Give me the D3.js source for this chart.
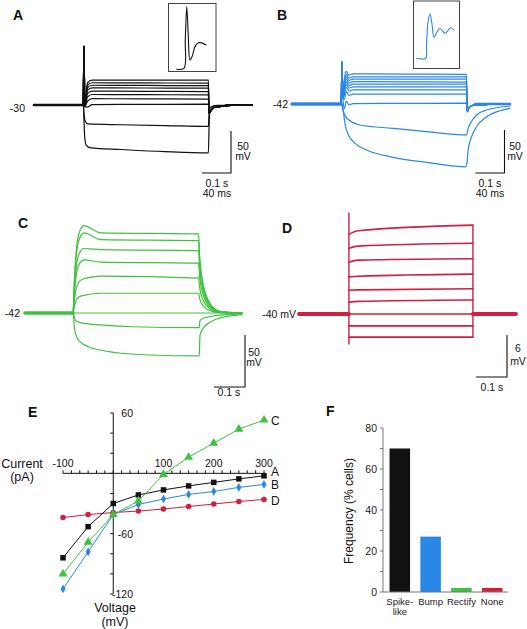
<!DOCTYPE html>
<html><head><meta charset="utf-8">
<script src="https://cdn.jsdelivr.net/npm/d3@7"></script>
<style>
html,body{margin:0;padding:0;background:#fff;}
svg{display:block;font-family:"Liberation Sans",Arial,Helvetica,sans-serif;}
</style></head><body>
<svg id="fig" width="527" height="629"></svg>
<script>
// ================= DATA =================
const colA = "#111111", colB = "#2a87e6", colC = "#3ec23e", colD = "#d11f40";

// ---- Panel A (time in ms, potential in mV) ----
const aBase = -30, aOn = 170, aOff = 600, aEnd = 750, aSpike = 40;
const aUpperStart = [-0.5, -3.5, -6.5, -9.5, -13.5, -17.5, -22.5, -29.5];
const aUpperEnd   = [-0.5, -4, -7, -10, -14, -18, -23, -29];
const aLow1 = [[0,-30],[170,-30],[172,-40],[176,-49],[185,-52.5],[300,-53.5],[450,-54.5],[600,-55.5],[602,-42],[606,-33],[630,-30.5],[750,-30]];
const aLow2 = [[0,-30],[170,-30],[172,-50],[175,-70],[180,-78],[195,-81],[300,-83],[450,-85.5],[600,-87],[602,-60],[605,-38],[620,-31],[750,-30]];
const aInsetT = [1, 11, 12.8, 14.8, 16.9, 19.3, 22.5, 26.2, 30.8, 35.4, 41.4];
const aInsetV = [-60, -58.8, -25, 14.5, -19, -49, -44, -33, -28.5, -28.5, -31];

// ---- Panel B ----
const bBase = -42, bOn = 170, bOff = 600, bEnd = 750, bSpike = 7;
const bUpperStart = [-7, -10.5, -13, -16, -19, -22, -25.5, -30.5, -41.5];
const bUpperEnd   = [-7.5, -10.5, -13, -16.5, -19, -22, -25.5, -30.5, -41];
const bLow1 = [[0,-42],[170,-42],[175,-49],[188,-58.3],[234,-66.4],[348,-70.3],[463,-74.2],[600,-78],[606,-70.3],[617,-62.6],[635,-54.8],[670,-49],[750,-44.3]];
const bLow2 = [[0,-42],[170,-42],[174,-45],[182,-64.4],[194,-78],[217,-87.7],[257,-95.5],[348,-104],[463,-109.8],[598,-115],[602,-110],[606,-95.5],[618,-80],[635,-68.4],[670,-56.8],[715,-49.8],[750,-47]];
const bInsetT = [0.9, 12.9, 14, 16, 18.7, 21.3, 24, 28, 32, 38.7, 46.3, 50.7];
const bInsetV = [-60, -60, -44.5, -17.8, -8.5, -20.1, -35.6, -29.4, -25.1, -30.9, -24.4, -27.1];

// ---- Panel C ----
const cBase = -42, cOn = 155, cOff = 560, cEnd = 700;
const cPeak    = [42, 35, 20, 9, -9, -25, -42];
const cPlateau = [35, 28.5, 19, 7, -6.5, -23, -42];
const cFinal   = [34, 27.5, 18, 6, -8.5, -23, -42];
const cLow1 = [[0,-42],[155.8,-42],[161.3,-48.7],[177.4,-51.3],[241.9,-53.5],[349.4,-55.2],[562,-56.1],[564.5,-49.4],[575.2,-47.1],[607.4,-44.9],[672,-43.3],[700,-42.7]];
const cLow2 = [[0,-42],[155.8,-42],[159,-55.2],[164.5,-63.2],[177.4,-69.6],[204.2,-74.4],[241.9,-77.6],[295.8,-80.2],[403.2,-82.4],[562.3,-83.3],[564.5,-63.2],[575.2,-56.7],[591.3,-51.9],[618.4,-47.8],[661.3,-44.9],[700,-43.6]];

// ---- Panel D ----
const dBase = -40, dOn = 161, dOff = 561, dEnd = 700;
const dStart = [-28.6, -30.6, -32.6, -34.7, -36.6, -38.3, -40, -41.7, -43.3];
const dEarly = [-28.1, -30.3, -32.3, -34.6, -36.55, -38.2, -40, -41.7, -43.3];
const dFinal = [-27.3, -29.9, -32.1, -34.3, -36.4, -38, -40, -41.7, -43.3];
const dTransient = [-25.6, -44.3];

// ---- Panel E (I-V) ----
const ivVoltage = [-100, -50, 0, 50, 100, 150, 200, 250, 300];
const ivA = [-84, -53, -30, -21.5, -16.5, -12.5, -9, -5.5, -2.5];
const ivB = [-115, -78, -41, -31, -25.5, -21, -18, -14, -11];
const ivC = [-100, -68.5, -41, -27.5, -1, 16, 30, 44, 53];
const ivD = [-44, -41, -39, -37.5, -35.5, -33, -30.5, -28, -26];
const ivXTickLabels = [-100, 100, 200, 300];
const ivYTickLabels = [60, -60, -120];

// ---- Panel F ----
const freqCats = ["Spike-like", "Bump", "Rectify", "None"];
const freqLabelLines = [["Spike-", "like"], ["Bump"], ["Rectify"], ["None"]];
const freqVals = [70, 27, 2, 2];
const freqColors = [colA, colB, colC, colD];
const freqTickLabels = [0, 20, 40, 60, 80];

// ================= DRAWING =================
const svg = d3.select("#fig");
const FONT = 10.5;

function label(x, y, t, opts = {}) {
  return svg.append("text").attr("x", x).attr("y", y).text(t)
    .attr("font-size", opts.size || FONT)
    .attr("font-weight", opts.bold ? "bold" : null)
    .attr("text-anchor", opts.anchor || "start")
    .attr("fill", opts.fill || "#111");
}
function drawPath(g, pts, xs, ys, color, w, curve) {
  g.append("path")
    .attr("d", d3.line().x(d => xs(d[0])).y(d => ys(d[1])).curve(curve || d3.curveMonotoneX)(pts))
    .attr("fill", "none").attr("stroke", color).attr("stroke-width", w)
    .attr("stroke-linejoin", "round").attr("stroke-linecap", "round");
}
function scaleBar(xs, ys, x0, y0, dt, dv) {
  const w = xs(dt) - xs(0), h = ys(0) - ys(dv);
  svg.append("path").attr("d", `M${x0 - w},${y0}H${x0}V${y0 - h}`)
    .attr("fill", "none").attr("stroke", "#111").attr("stroke-width", 1.1);
}

// ----- Panel A -----
{
  const xs = d3.scaleLinear([0, 750], [34, 252]);
  const ys = d3.scaleLinear([-30, 20], [105, 63]);
  const g = svg.append("g");
  drawPath(g, [[0, aBase], [aOn, aBase]], xs, ys, colA, 2.6, d3.curveLinear);
  drawPath(g, [[aOff + 60, aBase], [aEnd, aBase]], xs, ys, colA, 2.2, d3.curveLinear);
  aUpperStart.forEach((s, i) => {
    const e = aUpperEnd[i];
    const pts = [[0, aBase], [aOn - 1, aBase], [aOn + 2, aSpike], [aOn + 5, -32], [aOn + 14, s - 3], [aOn + 30, s],
      [(aOn + aOff) / 2, (s + e) / 2], [aOff, e], [aOff + 2, -40], [aOff + 6, -38], [aOff + 20, -33], [aOff + 60, -31], [aEnd, aBase]];
    drawPath(g, pts, xs, ys, colA, 1.2);
  });
  drawPath(g, aLow1, xs, ys, colA, 1.2);
  drawPath(g, aLow2, xs, ys, colA, 1.2);
  svg.append("rect").attr("x", 168.5).attr("y", 3.5).attr("width", 47.5).attr("height", 68)
    .attr("fill", "none").attr("stroke", "#444").attr("stroke-width", 1);
  const ix = d3.scaleLinear([0, 40], [176, 205]);
  const iy = d3.scaleLinear([-60, 0], [69.3, 18.9]);
  drawPath(g, aInsetT.map((t, i) => [t, aInsetV[i]]), ix, iy, colA, 1.1, d3.curveCatmullRom);
  scaleBar(xs, ys, 231, 173, 100, 50);
  label(25, 112, "-30", { anchor: "end" });
  label(243, 149.5, "50", { anchor: "middle" });
  label(243, 160, "mV", { anchor: "middle" });
  label(217, 186.5, "0.1 s", { anchor: "middle" });
  label(217, 197, "40 ms", { anchor: "middle" });
  label(13, 19.5, "A", { size: 14, bold: true });
}

// ----- Panel B -----
{
  const xs = d3.scaleLinear([0, 750], [292, 510]);
  const ys = d3.scaleLinear([-42, 8], [104, 61]);
  const g = svg.append("g");
  drawPath(g, [[0, bBase], [bOn, bBase]], xs, ys, colB, 3.4, d3.curveLinear);
  drawPath(g, [[bOff + 30, bBase], [bEnd, bBase]], xs, ys, colB, 2.4, d3.curveLinear);
  bUpperStart.forEach((s, i) => {
    const e = bUpperEnd[i];
    const pts = [[0, bBase], [bOn - 1, bBase], [bOn + 2, bSpike], [bOn + 5, -35], [bOn + 10, s - 6], [bOn + 17, s + 3], [bOn + 26, s - 1.5], [bOn + 40, s],
      [(bOn + bOff) / 2, (s + e) / 2], [bOff, e], [bOff + 3, -51], [bOff + 9, -46], [bOff + 22, -43.5], [bEnd, bBase]];
    drawPath(g, pts, xs, ys, colB, 1.2);
  });
  drawPath(g, bLow1, xs, ys, colB, 1.2);
  drawPath(g, bLow2, xs, ys, colB, 1.2);
  svg.append("rect").attr("x", 413.5).attr("y", 1).attr("width", 46).attr("height", 67.5)
    .attr("fill", "none").attr("stroke", "#444").attr("stroke-width", 1);
  const ix = d3.scaleLinear([0, 40], [416, 446]);
  const iy = d3.scaleLinear([-60, 0], [58.3, 6.7]);
  drawPath(g, bInsetT.map((t, i) => [t, bInsetV[i]]), ix, iy, colB, 1.1, d3.curveCatmullRom);
  scaleBar(xs, ys, 504.5, 173, 100, 50);
  label(288, 107.5, "-42", { anchor: "end" });
  label(515, 149.5, "50", { anchor: "middle" });
  label(515, 160, "mV", { anchor: "middle" });
  label(490, 186.5, "0.1 s", { anchor: "middle" });
  label(490, 197, "40 ms", { anchor: "middle" });
  label(277, 19.5, "B", { size: 14, bold: true });
}

// ----- Panel C -----
{
  const xs = d3.scaleLinear([0, 700], [25, 242]);
  const ys = d3.scaleLinear([-42, 8], [313, 261]);
  const g = svg.append("g");
  drawPath(g, [[0, cBase], [cOn, cBase]], xs, ys, colC, 3.4, d3.curveLinear);
  cPeak.forEach((p, i) => {
    const b = cBase, pl = cPlateau[i], e = cFinal[i];
    const pts = [[0, b], [cOn, b], [cOn + 4, b + .35 * (p - b)], [cOn + 10, b + .7 * (p - b)], [cOn + 20, b + .92 * (p - b)], [cOn + 35, p],
      [cOn + 90, pl], [cOff, e], [cOff + 3, b + .75 * (e - b)], [cOff + 14, b + .38 * (e - b)], [cOff + 37, b + .12 * (e - b)], [cOff + 70, b + .02 * (e - b)], [cEnd, b]];
    drawPath(g, pts, xs, ys, colC, 1.2);
  });
  drawPath(g, cLow1, xs, ys, colC, 1.2);
  drawPath(g, cLow2, xs, ys, colC, 1.2);
  scaleBar(xs, ys, 245, 387, 100, 50);
  label(20, 317, "-42", { anchor: "end" });
  label(254, 355.5, "50", { anchor: "middle" });
  label(254, 366, "mV", { anchor: "middle" });
  label(229, 396, "0.1 s", { anchor: "middle" });
  label(18, 228, "C", { size: 14, bold: true });
}

// ----- Panel D -----
{
  const xs = d3.scaleLinear([0, 700], [299, 516]);
  const ys = d3.scaleLinear([-40, -34], [314, 272]);
  const g = svg.append("g");
  drawPath(g, [[0, dBase], [dOn, dBase]], xs, ys, colD, 3.8, d3.curveLinear);
  drawPath(g, [[dOff, dBase], [dEnd, dBase]], xs, ys, colD, 3.8, d3.curveLinear);
  drawPath(g, [[dOn, dTransient[0]], [dOn, dTransient[1]]], xs, ys, colD, 1.4, d3.curveLinear);
  drawPath(g, [[dOff, d3.max(dFinal)], [dOff, d3.min(dFinal)]], xs, ys, colD, 1.4, d3.curveLinear);
  dStart.forEach((s, i) => {
    drawPath(g, [[dOn, s], [dOn + 30, dEarly[i]], [dOff, dFinal[i]]], xs, ys, colD, 1.6);
  });
  scaleBar(xs, ys, 507, 377, 100, 6);
  label(296, 317.5, "-40 mV", { anchor: "end" });
  label(518, 352, "6", { anchor: "middle" });
  label(518, 365, "mV", { anchor: "middle" });
  label(492, 391, "0.1 s", { anchor: "middle" });
  label(282, 233, "D", { size: 14, bold: true });
}

// ----- Panel E -----
{
  const xs = d3.scaleLinear([-100, 300], [63, 264]);
  const ys = d3.scaleLinear([-120, 60], [594, 413]);
  const g = svg.append("g");
  const y0 = ys(0), x0 = xs(0);
  g.append("line").attr("x1", xs(-100)).attr("x2", xs(300) + 2).attr("y1", y0).attr("y2", y0).attr("stroke", "#111");
  g.append("line").attr("x1", x0).attr("x2", x0).attr("y1", ys(60)).attr("y2", ys(-120)).attr("stroke", "#111");
  d3.range(-100, 300.01, 100 / 6).forEach(v => {
    g.append("line").attr("x1", xs(v)).attr("x2", xs(v)).attr("y1", y0).attr("y2", y0 - 3).attr("stroke", "#111");
  });
  d3.range(-120, 60.01, 20).forEach(v => {
    g.append("line").attr("x1", x0 - 3).attr("x2", x0).attr("y1", ys(v)).attr("y2", ys(v)).attr("stroke", "#111");
  });
  ivXTickLabels.forEach(v => label(xs(v), 467, String(v), { anchor: "middle" }));
  ivYTickLabels.forEach(v => label(133, ys(v) + 4, String(v), { anchor: "end" }));
  const series = [
    { v: ivD, c: colD, s: d3.symbolCircle, size: 24, name: "D", dy: 1.5 },
    { v: ivB, c: colB, s: d3.symbolDiamond, size: 22, name: "B", dy: 0.5 },
    { v: ivA, c: colA, s: d3.symbolSquare, size: 30, name: "A", dy: -4 },
    { v: ivC, c: colC, s: d3.symbolTriangle, size: 34, name: "C", dy: 0 }
  ];
  series.forEach(sr => {
    const pts = ivVoltage.map((x, i) => [x, sr.v[i]]);
    g.append("path").attr("d", d3.line().x(d => xs(d[0])).y(d => ys(d[1]))(pts))
      .attr("fill", "none").attr("stroke", sr.c).attr("stroke-width", 1);
    pts.forEach(p => {
      g.append("path").attr("d", d3.symbol(sr.s, sr.size)())
        .attr("transform", `translate(${xs(p[0])},${ys(p[1])})`).attr("fill", sr.c);
    });
    label(xs(300) + 7, ys(sr.v[sr.v.length - 1]) + 4.5 + sr.dy, sr.name, { size: 12 });
  });
  label(22, 468, "Current", { size: 12.5, anchor: "middle" });
  label(22, 481, "(pA)", { size: 12.5, anchor: "middle" });
  label(115, 612, "Voltage", { size: 12.5, anchor: "middle" });
  label(115, 626, "(mV)", { size: 12.5, anchor: "middle" });
  label(28, 417, "E", { size: 14, bold: true });
}

// ----- Panel F -----
{
  const ys = d3.scaleLinear([0, 80], [592, 428]);
  const xs = d3.scaleBand(freqCats, [384, 508]).paddingInner(0.334).paddingOuter(0.18);
  const g = svg.append("g");
  freqCats.forEach((c, i) => {
    g.append("rect").attr("x", xs(c)).attr("y", ys(freqVals[i])).attr("width", xs.bandwidth())
      .attr("height", ys(0) - ys(freqVals[i])).attr("fill", freqColors[i]);
  });
  g.append("line").attr("x1", 383).attr("x2", 383).attr("y1", ys(80)).attr("y2", ys(0)).attr("stroke", "#777");
  g.append("line").attr("x1", 383).attr("x2", 508).attr("y1", ys(0)).attr("y2", ys(0)).attr("stroke", "#777");
  d3.range(0, 80.01, 10).forEach(v => {
    g.append("line").attr("x1", 380).attr("x2", 383).attr("y1", ys(v)).attr("y2", ys(v)).attr("stroke", "#777");
  });
  freqTickLabels.forEach(v => label(377, ys(v) + 4, String(v), { anchor: "end", size: 10.5, fill: "#222" }));
  freqCats.forEach((c, i) => {
    freqLabelLines[i].forEach((t, j) => label(xs(c) + xs.bandwidth() / 2, 604.5 + j * 10.5, t, { anchor: "middle", size: 9.5, fill: "#222" }));
  });
  svg.append("text").attr("transform", "translate(353,511) rotate(-90)").attr("text-anchor", "middle")
    .attr("font-size", 12).attr("fill", "#111").text("Frequency (% cells)");
  label(326, 416, "F", { size: 14, bold: true });
}
</script>
</body></html>
